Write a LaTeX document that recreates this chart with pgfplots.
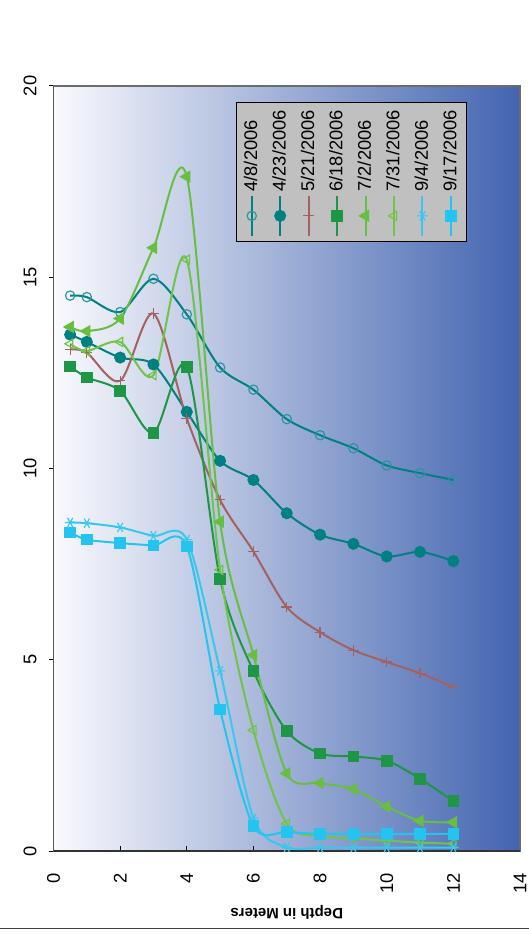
\documentclass[border=0pt]{standalone}
\usepackage{graphicx}
\usepackage{fontspec}
\setmainfont{Liberation Sans}
\usepackage{pgfplots}
\pgfplotsset{compat=1.18}
\definecolor{cA}{RGB}{0,128,128}
\definecolor{cAm}{RGB}{40,150,160}
\definecolor{cB}{RGB}{0,128,128}
\definecolor{cC}{RGB}{163,98,96}
\definecolor{cD}{RGB}{30,150,70}
\definecolor{cE}{RGB}{104,190,64}
\definecolor{cF}{RGB}{112,196,72}
\definecolor{cG}{RGB}{56,200,238}
\definecolor{cH}{RGB}{36,196,240}
\definecolor{bgR}{RGB}{66,100,176}
\definecolor{bgM}{RGB}{178,188,224}
\definecolor{bgL}{RGB}{250,250,253}
\definecolor{legbg}{RGB}{192,192,192}
\begin{document}
\rotatebox{90}{%
\begin{tikzpicture}[x=1pt,y=1pt]
\path[use as bounding box] (0,0) rectangle (561.6,317.4);
\draw[black!75, line width=0.6pt] (4.4,0) -- (4.4,317.4);
\begin{axis}[
  at={(51pt,5.4pt)}, anchor=south west,
  width=459pt, height=279.9pt, scale only axis,
  xmin=0, xmax=20, ymin=0, ymax=14,
  y dir=reverse,
  xtick={0,5,...,20}, ytick={0,2,...,14},
  minor tick num=0,
  xtick pos=right, xticklabel pos=right,
  ytick pos=left,
  tick align=inside,
  major tick length=3pt,
  tick style={black, line width=0.6pt},
  xtick style={yshift=3pt},
  axis background/.style={top color=bgL, middle color=bgM, bottom color=bgR},
  axis line style={draw=gray!85!black, line width=0.8pt},
  /pgf/number format/assume math mode=true,
  tick label style={font=\fontsize{11}{13}\selectfont},
  xticklabel style={anchor=south, yshift=6.7pt},
  yticklabel style={anchor=east, xshift=-9.8pt},
  ylabel={\bfseries Depth in Meters},
  every axis y label/.style={at={(axis description cs:-0.0806,0.5)}, anchor=center, rotate=90, font=\fontsize{9}{11}\selectfont},
  legend style={at={(axis description cs:0.979,0.609)}, anchor=north east,
    fill=legbg, draw=black, line width=0.5pt, font=\fontsize{11}{13}\selectfont,
    row sep=3.6pt, inner sep=2.5pt},
  legend cell align=left,
  legend image code/.code={\draw[mark repeat=2,mark phase=2,#1] plot coordinates {(0pt,0pt) (12pt,0pt) (24pt,0pt)};},
  every axis plot/.append style={line width=1.2pt, smooth, tension=0.5},
]
% 4/8/2006
\addplot[cA, mark=o, mark size=2.8pt, mark options={draw=cAm, line width=0.7pt}] coordinates {
(14.52,0.5) (14.48,1) (14.09,2) (14.96,3) (14.03,4) (12.64,5) (12.06,6) (11.29,7) (10.87,8) (10.53,9) (10.08,10) (9.88,11) (9.70,12)};
\addlegendentry{4/8/2006}
% 4/23/2006
\addplot[cB, mark=*, mark size=3pt, mark options={fill=cB, draw=cB}] coordinates {
(13.50,0.5) (13.31,1) (12.90,2) (12.72,3) (11.48,4) (10.20,5) (9.70,6) (8.83,7) (8.27,8) (8.03,9) (7.70,10) (7.82,11) (7.58,12)};
\addlegendentry{4/23/2006}
% 5/21/2006
\addplot[cC, mark=+, mark size=3.2pt, mark options={line width=0.7pt}] coordinates {
(13.11,0.5) (13.03,1) (12.29,2) (14.05,3) (11.31,4) (9.18,5) (7.83,6) (6.38,7) (5.72,8) (5.25,9) (4.94,10) (4.65,11) (4.28,12)};
\addlegendentry{5/21/2006}
% 6/18/2006
\addplot[cD, mark=square*, mark size=2.9pt, mark options={fill=cD}] coordinates {
(12.67,0.5) (12.38,1) (12.03,2) (10.93,3) (12.66,4) (7.11,5) (4.70,6) (3.14,7) (2.55,8) (2.47,9) (2.36,10) (1.89,11) (1.30,12)};
\addlegendentry{6/18/2006}
% 7/2/2006
\addplot[cE, mark=triangle*, mark size=3.2pt, mark options={fill=cE}] coordinates {
(13.70,0.5) (13.59,1) (13.92,2) (15.77,3) (17.63,4) (8.61,5) (5.12,6) (2.03,7) (1.78,8) (1.62,9) (1.16,10) (0.79,11) (0.75,12)};
\addlegendentry{7/2/2006}
% 7/31/2006
\addplot[cF, mark=triangle, mark size=3.2pt, mark options={line width=0.7pt}] coordinates {
(13.26,0.5) (13.07,1) (13.31,2) (12.44,3) (15.46,4) (7.35,5) (3.16,6) (0.71,7) (0.40,8) (0.33,9) (0.27,10) (0.22,11) (0.19,12)};
\addlegendentry{7/31/2006}
% 9/4/2006
\addplot[cG, mark=asterisk, mark size=3.2pt, mark options={line width=0.7pt}] coordinates {
(8.59,0.5) (8.57,1) (8.46,2) (8.24,3) (8.14,4) (4.71,5) (0.86,6) (0.10,7) (0.09,8) (0.09,9) (0.09,10) (0.09,11) (0.09,12)};
\addlegendentry{9/4/2006}
% 9/17/2006
\addplot[cH, mark=square*, mark size=2.9pt, mark options={fill=cH}] coordinates {
(8.33,0.5) (8.14,1) (8.05,2) (7.99,3) (7.96,4) (3.70,5) (0.65,6) (0.50,7) (0.45,8) (0.45,9) (0.45,10) (0.45,11) (0.45,12)};
\addlegendentry{9/17/2006}
\draw[black!80, line width=1.1pt] (axis description cs:1,1) -- (axis description cs:0,1) -- (axis description cs:0,0);
\end{axis}
\end{tikzpicture}}
\end{document}
